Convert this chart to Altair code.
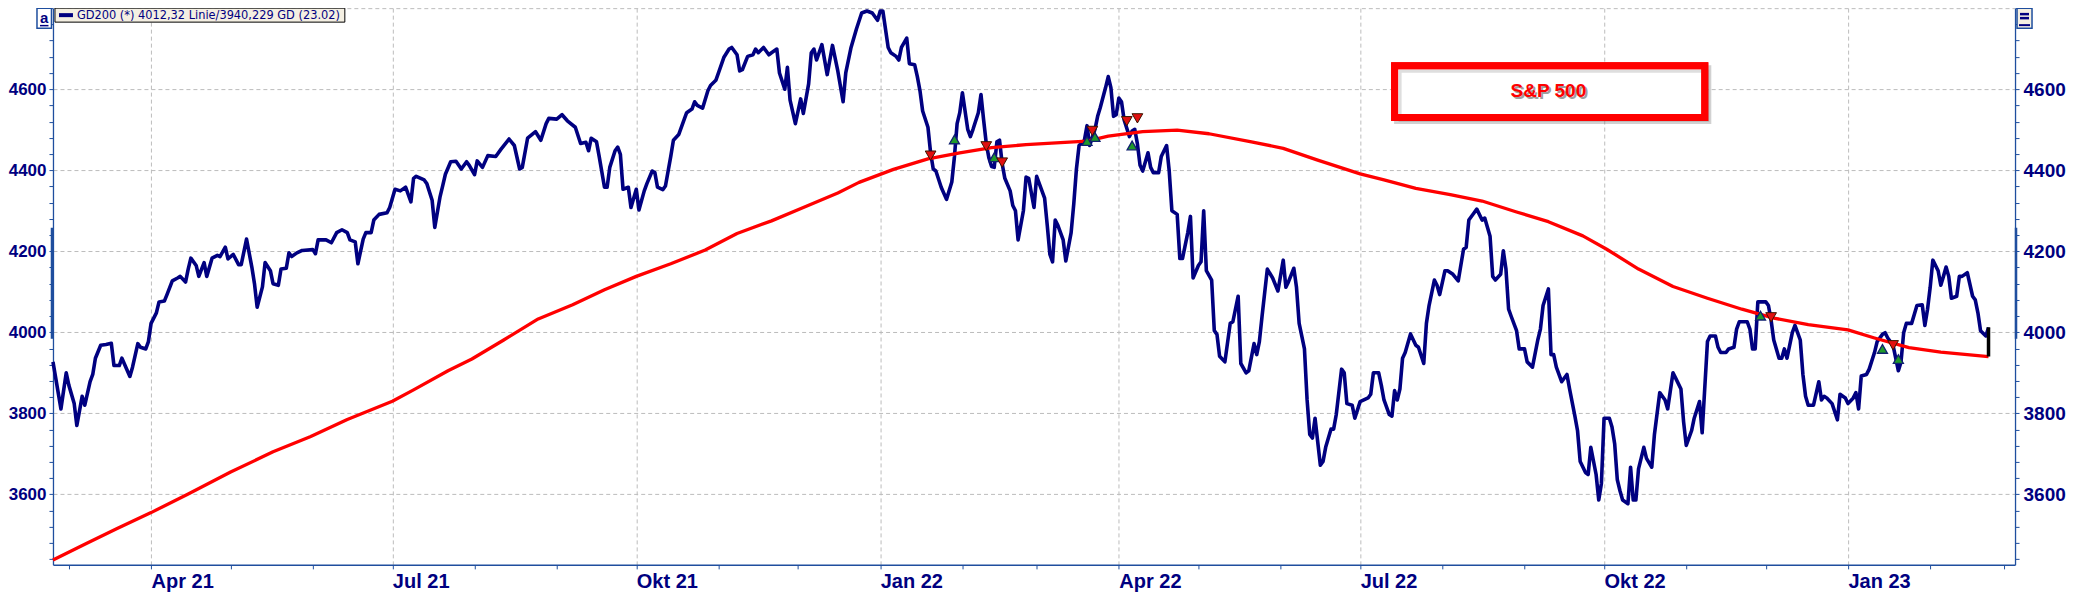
import altair as alt
import pandas as pd

# ---------------- data ----------------
price_dates = [
"2021-02-23","2021-02-26","2021-02-28","2021-03-01","2021-03-03","2021-03-04","2021-03-06","2021-03-07","2021-03-09","2021-03-10",
"2021-03-11","2021-03-13","2021-03-15","2021-03-17","2021-03-18","2021-03-20","2021-03-21","2021-03-24","2021-03-25","2021-03-27",
"2021-03-28","2021-03-30","2021-03-31","2021-04-01","2021-04-03","2021-04-04","2021-04-06","2021-04-07","2021-04-09","2021-04-11",
"2021-04-12","2021-04-14","2021-04-15","2021-04-16","2021-04-18","2021-04-19","2021-04-21","2021-04-22","2021-04-24","2021-04-26",
"2021-04-27","2021-04-29","2021-04-30","2021-05-02","2021-05-04","2021-05-05","2021-05-07","2021-05-09","2021-05-10","2021-05-11",
"2021-05-13","2021-05-14","2021-05-16","2021-05-17","2021-05-19","2021-05-20","2021-05-22","2021-05-23","2021-05-24","2021-05-26",
"2021-05-28","2021-06-01","2021-06-02","2021-06-03","2021-06-06","2021-06-08","2021-06-10","2021-06-12","2021-06-14","2021-06-15",
"2021-06-17","2021-06-18","2021-06-20","2021-06-21","2021-06-23","2021-06-24","2021-06-26","2021-06-29","2021-06-30","2021-07-02",
"2021-07-04","2021-07-06","2021-07-08","2021-07-09","2021-07-10","2021-07-13","2021-07-14","2021-07-16","2021-07-17","2021-07-19",
"2021-07-20","2021-07-21","2021-07-23","2021-07-25","2021-07-27","2021-07-29","2021-07-30","2021-08-01","2021-08-02","2021-08-04",
"2021-08-06","2021-08-09","2021-08-11","2021-08-14","2021-08-16","2021-08-18","2021-08-19","2021-08-21","2021-08-24","2021-08-26",
"2021-08-28","2021-08-29","2021-09-01","2021-09-03","2021-09-05","2021-09-08","2021-09-10","2021-09-12","2021-09-13","2021-09-14",
"2021-09-16","2021-09-17","2021-09-19","2021-09-20","2021-09-21","2021-09-23","2021-09-24","2021-09-25","2021-09-26","2021-09-28",
"2021-09-29","2021-10-01","2021-10-02","2021-10-04","2021-10-05","2021-10-07","2021-10-08","2021-10-09","2021-10-11","2021-10-12",
"2021-10-14","2021-10-15","2021-10-17","2021-10-19","2021-10-20","2021-10-22","2021-10-23","2021-10-24","2021-10-26","2021-10-28",
"2021-10-29","2021-10-31","2021-11-01","2021-11-03","2021-11-05","2021-11-06","2021-11-08","2021-11-09","2021-11-10","2021-11-12",
"2021-11-14","2021-11-15","2021-11-16","2021-11-18","2021-11-20","2021-11-21","2021-11-23","2021-11-24","2021-11-26","2021-11-27",
"2021-11-28","2021-11-30","2021-12-02","2021-12-03","2021-12-05","2021-12-06","2021-12-07","2021-12-08","2021-12-10","2021-12-12",
"2021-12-14","2021-12-16","2021-12-18","2021-12-19","2021-12-21","2021-12-23","2021-12-25","2021-12-27","2021-12-29","2021-12-31",
"2022-01-01","2022-01-02","2022-01-04","2022-01-05","2022-01-07","2022-01-08","2022-01-09","2022-01-11","2022-01-12","2022-01-14",
"2022-01-15","2022-01-16","2022-01-17","2022-01-19","2022-01-20","2022-01-21","2022-01-22","2022-01-24","2022-01-26","2022-01-28",
"2022-01-29","2022-01-30","2022-01-31","2022-02-01","2022-02-03","2022-02-04","2022-02-05","2022-02-07","2022-02-08","2022-02-09",
"2022-02-10","2022-02-11","2022-02-12","2022-02-13","2022-02-14","2022-02-15","2022-02-16","2022-02-17","2022-02-19","2022-02-20",
"2022-02-21","2022-02-22","2022-02-24","2022-02-25","2022-02-26","2022-02-27","2022-02-28","2022-03-01","2022-03-02","2022-03-04",
"2022-03-05","2022-03-06","2022-03-07","2022-03-08","2022-03-09","2022-03-11","2022-03-12","2022-03-14","2022-03-15","2022-03-16",
"2022-03-17","2022-03-19","2022-03-20","2022-03-21","2022-03-23","2022-03-24","2022-03-25","2022-03-27","2022-03-28","2022-03-29",
"2022-03-30","2022-03-31","2022-04-01","2022-04-02","2022-04-03","2022-04-05","2022-04-06","2022-04-07","2022-04-08","2022-04-09",
"2022-04-10","2022-04-12","2022-04-13","2022-04-14","2022-04-16","2022-04-17","2022-04-19","2022-04-20","2022-04-21","2022-04-23",
"2022-04-24","2022-04-25","2022-04-27","2022-04-28","2022-04-29","2022-05-01","2022-05-02","2022-05-03","2022-05-04","2022-05-06",
"2022-05-07","2022-05-08","2022-05-09","2022-05-11","2022-05-13","2022-05-14","2022-05-16","2022-05-17","2022-05-19","2022-05-20",
"2022-05-22","2022-05-23","2022-05-24","2022-05-25","2022-05-27","2022-05-29","2022-05-31","2022-06-02","2022-06-03","2022-06-04",
"2022-06-06","2022-06-07","2022-06-08","2022-06-10","2022-06-11","2022-06-12","2022-06-13","2022-06-14","2022-06-16","2022-06-17",
"2022-06-18","2022-06-20","2022-06-21","2022-06-22","2022-06-24","2022-06-25","2022-06-26","2022-06-28","2022-06-29","2022-07-01",
"2022-07-04","2022-07-05","2022-07-06","2022-07-08","2022-07-09","2022-07-10","2022-07-12","2022-07-13","2022-07-14","2022-07-15",
"2022-07-16","2022-07-17","2022-07-18","2022-07-20","2022-07-22","2022-07-23","2022-07-25","2022-07-26","2022-07-27","2022-07-29",
"2022-07-30","2022-07-31","2022-08-02","2022-08-03","2022-08-05","2022-08-07","2022-08-09","2022-08-10","2022-08-11","2022-08-13",
"2022-08-14","2022-08-16","2022-08-17","2022-08-19","2022-08-20","2022-08-21","2022-08-23","2022-08-24","2022-08-25","2022-08-26",
"2022-08-27","2022-08-29","2022-08-30","2022-09-01","2022-09-02","2022-09-04","2022-09-06","2022-09-07","2022-09-08","2022-09-10",
"2022-09-11","2022-09-12","2022-09-13","2022-09-15","2022-09-17","2022-09-18","2022-09-20","2022-09-21","2022-09-22","2022-09-24",
"2022-09-25","2022-09-26","2022-09-28","2022-09-29","2022-09-30","2022-10-01","2022-10-03","2022-10-04","2022-10-05","2022-10-06",
"2022-10-07","2022-10-08","2022-10-10","2022-10-11","2022-10-12","2022-10-13","2022-10-14","2022-10-16","2022-10-17","2022-10-19",
"2022-10-20","2022-10-22","2022-10-24","2022-10-25","2022-10-27","2022-10-28","2022-10-30","2022-10-31","2022-11-01","2022-11-03",
"2022-11-04","2022-11-06","2022-11-07","2022-11-09","2022-11-10","2022-11-12","2022-11-13","2022-11-14","2022-11-16","2022-11-17",
"2022-11-19","2022-11-20","2022-11-21","2022-11-24","2022-11-25","2022-11-26","2022-11-27","2022-11-28","2022-12-01","2022-12-02",
"2022-12-03","2022-12-04","2022-12-06","2022-12-07","2022-12-08","2022-12-09","2022-12-11","2022-12-12","2022-12-14","2022-12-15",
"2022-12-16","2022-12-17","2022-12-19","2022-12-21","2022-12-22","2022-12-23","2022-12-24","2022-12-26","2022-12-28","2022-12-29",
"2022-12-31","2023-01-01","2023-01-03","2023-01-04","2023-01-05","2023-01-06","2023-01-08","2023-01-09","2023-01-11","2023-01-12",
"2023-01-14","2023-01-15","2023-01-16","2023-01-18","2023-01-20","2023-01-21","2023-01-22","2023-01-23","2023-01-25","2023-01-26",
"2023-01-27","2023-01-29","2023-01-30","2023-01-31","2023-02-01","2023-02-02","2023-02-04","2023-02-05","2023-02-06","2023-02-07",
"2023-02-08","2023-02-09","2023-02-11","2023-02-12","2023-02-13","2023-02-15","2023-02-17","2023-02-18","2023-02-19","2023-02-20",
"2023-02-22","2023-02-23",
]
price_values = [
3927,3811,3900,3869,3824,3770,3842,3820,3878,3896,
3936,3968,3970,3973,3918,3918,3936,3891,3914,3972,
3963,3959,3977,4022,4048,4075,4077,4093,4127,4134,
4138,4124,4156,4183,4165,4138,4172,4138,4183,4190,
4187,4210,4181,4192,4167,4167,4230,4161,4120,4062,
4112,4172,4152,4120,4116,4156,4158,4196,4187,4196,
4202,4204,4194,4228,4228,4221,4246,4253,4246,4228,
4223,4169,4230,4246,4246,4277,4291,4295,4308,4353,
4349,4358,4322,4380,4385,4376,4367,4326,4259,4335,
4362,4390,4421,4422,4403,4421,4412,4389,4423,4407,
4436,4434,4452,4477,4461,4403,4407,4479,4495,4474,
4515,4528,4526,4537,4522,4506,4466,4469,4448,4479,
4470,4434,4358,4358,4407,4448,4457,4439,4353,4358,
4308,4353,4302,4349,4367,4398,4394,4358,4352,4361,
4434,4474,4488,4524,4542,4551,4569,4560,4553,4596,
4609,4622,4640,4678,4699,4703,4685,4645,4648,4681,
4685,4699,4690,4703,4685,4690,4699,4640,4600,4654,
4573,4515,4576,4540,4613,4690,4699,4672,4710,4636,
4708,4645,4569,4640,4703,4748,4788,4793,4788,4770,
4793,4793,4703,4690,4681,4672,4703,4726,4663,4660,
4631,4596,4546,4506,4443,4403,4398,4358,4328,4371,
4434,4515,4542,4591,4501,4483,4501,4542,4587,4524,
4466,4430,4409,4407,4470,4474,4416,4380,4349,4313,
4300,4228,4300,4383,4380,4344,4308,4385,4367,4331,
4264,4192,4174,4277,4264,4228,4176,4246,4317,4403,
4461,4474,4510,4461,4501,4533,4555,4604,4631,4604,
4533,4537,4578,4569,4524,4483,4497,4501,4465,4412,
4398,4443,4407,4394,4394,4434,4461,4398,4300,4291,
4182,4182,4246,4286,4134,4165,4174,4300,4152,4129,
4004,3995,3941,3927,4022,4026,4089,3923,3900,3905,
3972,3945,3977,4039,4156,4134,4102,4178,4111,4125,
4158,4111,4022,3959,3833,3748,3739,3788,3672,3681,
3716,3761,3761,3797,3909,3900,3824,3820,3788,3829,
3838,3847,3900,3900,3869,3833,3797,3793,3856,3833,
3860,3936,3950,3996,3968,3963,3923,4022,4066,4129,
4116,4093,4152,4152,4143,4127,4205,4210,4277,4295,
4304,4277,4282,4237,4138,4129,4143,4201,4156,4057,
4039,4004,3959,3959,3927,3914,3981,4008,4066,4107,
3945,3945,3914,3878,3896,3860,3793,3757,3681,3654,
3649,3716,3649,3586,3627,3788,3788,3766,3725,3636,
3609,3586,3577,3667,3586,3586,3663,3716,3689,3667,
3748,3851,3833,3811,3900,3887,3860,3779,3721,3757,
3788,3829,3752,3977,3991,3991,3963,3950,3950,3959,
3963,4008,4026,4026,4008,3959,3959,4075,4075,4066,
4030,3981,3936,3936,3959,3936,3999,4017,3981,3896,
3842,3820,3820,3878,3833,3842,3838,3824,3784,3847,
3838,3824,3838,3851,3811,3892,3896,3909,3950,3977,
3995,3999,3986,3968,3905,3927,3999,4022,4022,4044,
4066,4068,4017,4057,4111,4178,4152,4116,4138,4161,
4138,4084,4089,4138,4138,4147,4089,4080,4048,4004,
3991,4012,
]

gd200_dates = [
"2021-02-23","2021-03-07","2021-03-19","2021-04-01","2021-04-15","2021-05-01","2021-05-17","2021-05-31","2021-06-14","2021-07-01",
"2021-07-09","2021-07-22","2021-07-31","2021-08-12","2021-08-25","2021-09-07","2021-09-19","2021-10-01","2021-10-14","2021-10-27",
"2021-11-08","2021-11-21","2021-12-03","2021-12-16","2021-12-24","2022-01-06","2022-01-19","2022-01-31","2022-02-12","2022-02-25",
"2022-03-10","2022-03-20","2022-03-28","2022-04-10","2022-04-23","2022-05-05","2022-05-21","2022-06-02","2022-06-15","2022-07-01",
"2022-07-10","2022-07-22","2022-08-04","2022-08-16","2022-08-29","2022-09-10","2022-09-23","2022-10-02","2022-10-14","2022-10-27",
"2022-11-09","2022-11-22","2022-12-04","2022-12-17","2023-01-01","2023-01-11","2023-01-24","2023-02-05","2023-02-23",
]
gd200_values = [
3438,3477,3515,3555,3601,3655,3705,3742,3785,3830,
3858,3905,3934,3981,4033,4068,4105,4138,4169,4203,
4244,4275,4308,4344,4370,4402,4428,4443,4456,4463,
4468,4472,4484,4495,4499,4490,4470,4454,4425,4391,
4376,4355,4340,4324,4297,4273,4238,4205,4156,4113,
4084,4057,4035,4019,4006,3986,3962,3951,3940,
]

sell_dates = ["2022-01-20", "2022-02-10", "2022-02-16", "2022-03-22", "2022-04-04", "2022-04-08", "2022-12-03", "2023-01-18"]
sell_values = [4436, 4459, 4419, 4497, 4521, 4528, 4037, 3968]
buy_dates = ["2022-01-29", "2022-02-13", "2022-03-20", "2022-03-23", "2022-04-06", "2022-11-29", "2023-01-14", "2023-01-20"]
buy_values = [4476, 4432, 4472, 4482, 4461, 4041, 3959, 3934]

last_date = "2023-02-23"
last_close = 4012.32
last_gd200 = 3940.229
range_marker = [3984, 4258]

legend_text = "GD200 (*) 4012,32 Linie/3940,229 GD (23.02)"
box_title = "S&P 500"
box_left, box_right = "2022-07-14", "2022-11-08"
box_top, box_bottom = 4658, 4530
box_text_date, box_text_value = "2022-09-10", 4595
quarter_names = ["Jan", "Apr", "Jul", "Okt"]

# ---------------- styling ----------------
NAVY = "#000080"
AXIS_BLUE = "#1f4e9e"
GRID = "#bcbcbc"
FONT = "Liberation Sans"

W, H = 1963, 557
y_scale = alt.Scale(domain=[3426, 4800], nice=False, zero=False)
x_scale = alt.Scale(
    type="utc",
    domain=[alt.DateTime(year=2021, month=2, date=23, utc=True),
            alt.DateTime(year=2023, month=3, date=5, utc=True)],
)

# monthly tick positions (epoch ms, UTC)
month_ticks = []
for yr in (2021, 2022, 2023):
    for mo in range(1, 13):
        if (yr == 2021 and mo < 3) or (yr == 2023 and mo > 3):
            continue
        month_ticks.append(int(pd.Timestamp(year=yr, month=mo, day=1, tz="UTC").value // 10**6))

qn = "[" + ",".join("'%s'" % q for q in quarter_names) + "]"
x_axis = alt.Axis(
    values=month_ticks,
    labelExpr="utcmonth(datum.value) % 3 == 0 ? " + qn +
              "[floor(utcmonth(datum.value) / 3)] + ' ' + utcFormat(datum.value, '%y') : ''",
    title=None, grid=True, gridColor=GRID, gridDash=[4, 3], gridWidth=1,
    gridOpacity={"condition": {"test": "utcmonth(datum.value) % 3 == 0", "value": 1}, "value": 0},
    tickSize=4, tickColor=AXIS_BLUE, tickWidth=1, domainColor=AXIS_BLUE, domainWidth=1.5,
    labelFont=FONT, labelFontSize=20, labelFontWeight="bold", labelColor=NAVY,
    labelAlign="left", labelBaseline="top", labelPadding=3, labelOverlap=False, labelFlush=False,
)

y_ticks = list(range(3440, 4801, 40))
y_label_expr = "(datum.value % 200 == 0 && datum.value < 4800) ? datum.label : ''"


def y_axis(orient, grid):
    kw = dict(
        orient=orient, values=y_ticks, format="d", labelExpr=y_label_expr, title=None,
        tickSize=4, tickColor=AXIS_BLUE, tickWidth=1, domainColor=AXIS_BLUE, domainWidth=1.3,
        labelFont=FONT, labelFontWeight="bold", labelColor=NAVY,
        labelFontSize=17 if orient == "left" else 19,
        labelPadding=3 if orient == "left" else 4, labelOverlap=False, labelFlush=False,
        grid=grid,
    )
    if grid:
        kw.update(gridColor=GRID, gridDash=[4, 3], gridWidth=1,
                  gridOpacity={"condition": {"test": "datum.value % 200 == 0", "value": 1}, "value": 0})
    return alt.Axis(**kw)


price_df = pd.DataFrame({"date": price_dates, "value": price_values})
gd_df = pd.DataFrame({"date": gd200_dates, "value": gd200_values})
sell_df = pd.DataFrame({"date": sell_dates, "value": sell_values})
buy_df = pd.DataFrame({"date": buy_dates, "value": buy_values})

price_line = alt.Chart(price_df).mark_line(color=NAVY, strokeWidth=3.6, strokeJoin="round").encode(
    x=alt.X("date:T", scale=x_scale, axis=x_axis),
    y=alt.Y("value:Q", scale=y_scale, axis=y_axis("left", True)),
)

# other layers: x shares the price layer's axis (no axis spec of their own), y axis switched off
NOAX_X = dict(scale=x_scale)
NOAX_Y = dict(scale=y_scale, axis=None)

gd_line = alt.Chart(gd_df).mark_line(color="#ff0000", strokeWidth=3.3, strokeJoin="round").encode(
    x=alt.X("date:T", **NOAX_X),
    y=alt.Y("value:Q", scale=y_scale, axis=y_axis("right", False)),
)

last_df = pd.DataFrame({"date": [last_date], "close": [last_close], "gd": [last_gd200]})
last_bar = alt.Chart(last_df).mark_rule(color="black", strokeWidth=3.5).encode(
    x=alt.X("date:T", **NOAX_X), y=alt.Y("close:Q", **NOAX_Y), y2="gd:Q",
)

sell_pts = alt.Chart(sell_df).mark_point(
    shape="triangle-down", filled=True, size=115, fill="#e01010", stroke="#3a1500", strokeWidth=1, opacity=1
).encode(x=alt.X("date:T", **NOAX_X), y=alt.Y("value:Q", **NOAX_Y))

buy_pts = alt.Chart(buy_df).mark_point(
    shape="triangle-up", filled=True, size=100, fill="#1f9a2a", stroke="#102070", strokeWidth=1.3, opacity=1
).encode(x=alt.X("date:T", **NOAX_X), y=alt.Y("value:Q", **NOAX_Y))

box_df = pd.DataFrame({"date": [box_left], "x2": [box_right], "y": [box_top], "y2": [box_bottom]})
box_shadow = alt.Chart(box_df).mark_rect(
    fill=None, stroke="#7a7a7a", strokeWidth=7, opacity=0.35,
    xOffset=3, x2Offset=3, yOffset=3, y2Offset=3,
).encode(x=alt.X("date:T", **NOAX_X), x2="x2:T", y=alt.Y("y:Q", **NOAX_Y), y2="y2:Q")
box_rect = alt.Chart(box_df).mark_rect(fill="white", stroke="#ff0000", strokeWidth=7).encode(
    x=alt.X("date:T", **NOAX_X), x2="x2:T", y=alt.Y("y:Q", **NOAX_Y), y2="y2:Q",
)
box_inner = alt.Chart(box_df).mark_rect(
    fill=None, stroke="#7a7a7a", strokeWidth=3, opacity=0.25,
    xOffset=5.5, x2Offset=3, yOffset=5.5, y2Offset=3,
).encode(x=alt.X("date:T", **NOAX_X), x2="x2:T", y=alt.Y("y:Q", **NOAX_Y), y2="y2:Q")
box_rect_stroke = alt.Chart(box_df).mark_rect(fill=None, stroke="#ff0000", strokeWidth=7).encode(
    x=alt.X("date:T", **NOAX_X), x2="x2:T", y=alt.Y("y:Q", **NOAX_Y), y2="y2:Q",
)

btxt_df = pd.DataFrame({"date": [box_text_date], "value": [box_text_value], "t": [box_title]})
box_text_shadow = alt.Chart(btxt_df).mark_text(
    font=FONT, fontSize=19, fontWeight="bold", color="#808080", opacity=0.75, dx=2, dy=2,
    align="center", baseline="middle",
).encode(x=alt.X("date:T", **NOAX_X), y=alt.Y("value:Q", **NOAX_Y), text="t:N")
box_text = alt.Chart(btxt_df).mark_text(
    font=FONT, fontSize=19, fontWeight="bold", color="#ff0000", align="center", baseline="middle",
).encode(x=alt.X("date:T", **NOAX_X), y=alt.Y("value:Q", **NOAX_Y), text="t:N")

# ------------- chart chrome (legend box, buttons, axis range marks) -------------
one = pd.DataFrame({"t": [legend_text]})
legend_box = alt.Chart(one).mark_rect(fill="#f4efe2", stroke="black", strokeWidth=1).encode(
    x=alt.value(2), x2=alt.value(292), y=alt.value(0), y2=alt.value(14))
legend_sym = alt.Chart(one).mark_rule(color=NAVY, strokeWidth=4).encode(
    x=alt.value(6), x2=alt.value(20), y=alt.value(7))
legend_txt = alt.Chart(one).mark_text(
    font="DejaVu Sans", fontSize=11.4, color=NAVY, align="left", baseline="middle").encode(
    x=alt.value(24), y=alt.value(7.5), text="t:N")

a_df = pd.DataFrame({"t": ["a"]})
a_box = alt.Chart(a_df).mark_rect(fill="white", stroke=AXIS_BLUE, strokeWidth=1.5).encode(
    x=alt.value(-16), x2=alt.value(-1.5), y=alt.value(0), y2=alt.value(20))
a_txt = alt.Chart(a_df).mark_text(font=FONT, fontSize=15, fontWeight="bold", color=NAVY,
                                  align="center", baseline="alphabetic").encode(
    x=alt.value(-8.7), y=alt.value(15), text="t:N")
a_ul = alt.Chart(a_df).mark_rule(color=NAVY, strokeWidth=1.5).encode(
    x=alt.value(-13), x2=alt.value(-4.5), y=alt.value(17.5))

m_box = alt.Chart(a_df).mark_rect(fill="#f4efe2", stroke=AXIS_BLUE, strokeWidth=1.5).encode(
    x=alt.value(W + 2), x2=alt.value(W + 17), y=alt.value(0), y2=alt.value(20))
m_b1 = alt.Chart(a_df).mark_rule(color=NAVY, strokeWidth=2.5).encode(
    x=alt.value(W + 5), x2=alt.value(W + 14), y=alt.value(6))
m_b2 = alt.Chart(a_df).mark_rule(color=NAVY, strokeWidth=2.5).encode(
    x=alt.value(W + 5), x2=alt.value(W + 14), y=alt.value(10))
m_b3 = alt.Chart(a_df).mark_rule(color=NAVY, strokeWidth=2).encode(
    x=alt.value(W + 4), x2=alt.value(W + 15), y=alt.value(17))

rng_df = pd.DataFrame({"lo": [range_marker[0]], "hi": [range_marker[1]]})
rng_left = alt.Chart(rng_df).mark_rule(color=AXIS_BLUE, strokeWidth=2.5).encode(
    x=alt.value(-1), y=alt.Y("lo:Q", **NOAX_Y), y2="hi:Q")
rng_right = alt.Chart(rng_df).mark_rule(color=AXIS_BLUE, strokeWidth=2.5).encode(
    x=alt.value(W + 1), y=alt.Y("lo:Q", **NOAX_Y), y2="hi:Q")

chart = alt.layer(
    price_line, gd_line, last_bar,
    box_shadow, box_rect, box_inner, box_rect_stroke, box_text_shadow, box_text,
    buy_pts, sell_pts,
    legend_box, legend_sym, legend_txt,
    a_box, a_txt, a_ul, m_box, m_b1, m_b2, m_b3,
    rng_left, rng_right,
).resolve_axis(y="independent").resolve_scale(y="shared").properties(
    width=W, height=H,
    autosize=alt.AutoSizeParams(type="none"),
    padding={"left": 45, "top": 0, "right": 60, "bottom": 27},
    background="white",
).configure_view(stroke=None)

chart.save("out.html", embed_options={"renderer": "svg", "actions": False})
